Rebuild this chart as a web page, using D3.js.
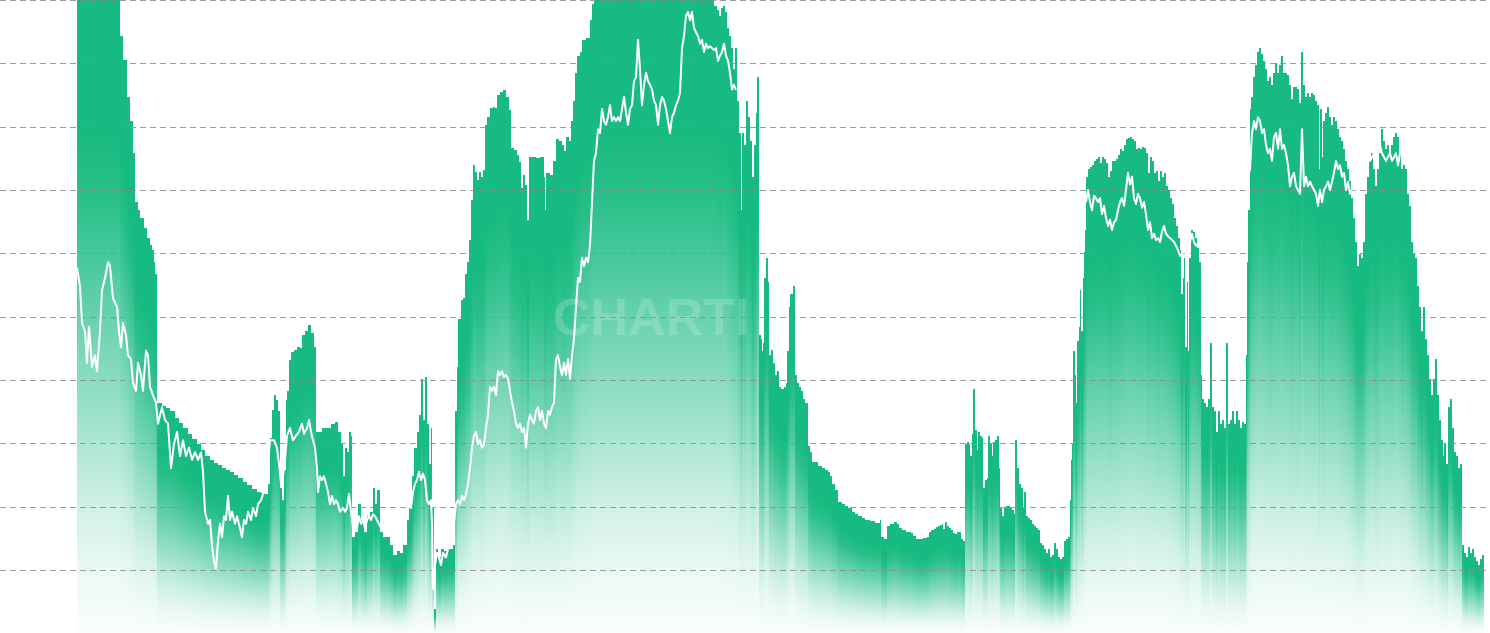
<!DOCTYPE html>
<html><head><meta charset="utf-8">
<script src="https://cdn.jsdelivr.net/npm/d3@7"></script>
<style>html,body{margin:0;padding:0;background:#fff;overflow:hidden}</style>
</head><body>
<svg id="chart" width="1490" height="633"></svg>
<script>
// bar series: [time index, value]
const barSeries = [
[0,100],[43,94.3],[46,90.5],[50,84.7],[53,80.9],[56,75.8],[58,68.1],[61,66.8],[63,65.6],[67,64.0],[70,62.4],[73,61.3],[75,60.5],[77,58.6],[78,56.7],
[80,36.4],[85,35.9],[89,35.6],[93,35.1],[98,34.0],[102,33.2],[106,32.4],[111,31.5],[115,30.7],[120,29.9],[124,28.9],[128,28.0],[133,27.4],[137,26.9],[141,26.6],[145,26.1],[149,25.8],[153,25.5],[157,25.0],[161,24.5],[166,23.9],[170,23.4],[175,22.8],[180,22.3],[184,22.2],[188,22.0],
[191,23.6],[193,30.8],[195,35.3],[197,37.6],[199,36.8],[201,35.1],[203,22.9],[205,21.0],[207,25.8],[209,36.8],[210,38.3],[212,43.2],[214,44.4],[217,44.7],[220,45.2],[223,45.1],[225,47.1],[228,47.7],[231,48.7],[234,47.4],[237,45.2],
[239,31.8],[241,31.8],[245,32.4],[250,32.4],[254,33.1],[258,33.4],[261,31.8],[264,29.9],[266,24.8],[268,29.3],[270,28.6],[272,31.8],[274,31.2],
[275,15.2],[278,16.0],[281,20.4],[284,17.9],[287,16.0],[290,18.5],[293,19.2],[296,22.9],[298,20.4],[300,22.6],[303,16.0],[306,15.2],[310,15.2],[313,13.9],[316,12.4],[320,13.0],[323,12.7],[326,13.9],[330,17.9],[332,19.8],[335,24.8],[337,29.3],[340,31.8],[342,34.5],[344,40.2],[346,33.7],[348,40.5],[350,33.1],[352,26.7],[354,32.4],[355,19.8],[357,3.8],[359,13.3],[361,12.0],[364,13.3],[367,13.0],[370,13.3],[373,13.3],[376,13.9],
[378,35.1],[380,42.1],[381,49.6],[384,52.6],[386,52.9],[388,56.7],[390,58.6],[392,62.1],[394,68.4],[396,73.9],[398,72.8],[400,71.6],[402,72.8],[404,72.1],[406,73.2],[408,80.3],[410,81.5],[413,82.9],[416,83.1],[418,82.9],[420,85.0],[423,85.5],[426,85.8],[429,84.7],[432,82.6],[434,76.6],[437,76.3],[440,75.5],[442,74.4],[444,70.3],[446,72.4],[448,70.8],[450,65.3],[452,75.2],[455,75.2],[459,75.1],[463,75.2],[467,72.1],[468,66.8],[469,72.7],[471,72.7],[473,72.4],[476,74.6],[479,78.1],[482,77.7],[485,77.1],[487,76.2],[489,78.4],[492,77.7],[494,80.9],[496,84.1],[498,88.5],[500,91.2],[503,91.8],[505,93.7],[509,94.0],[513,96.8],[515,99.4],[517,100],
[637,99.1],[640,98.4],[642,97.5],[644,98.7],[646,99.1],[648,98.1],[650,95.6],[652,94.3],[654,92.4],[656,89.1],[658,92.4],[660,84.1],[662,79.0],[664,66.8],[665,79.0],[667,77.1],[669,84.1],[671,81.5],[673,77.7],[675,72.1],[677,77.1],[679,82.2],[680,87.8],
[682,47.1],[684,46.5],[685,44.6],[686,45.8],[687,56.1],[689,59.3],[691,55.5],[692,43.9],[694,44.7],[696,42.7],[698,40.8],[700,41.4],[702,38.9],[704,38.6],[707,38.9],[709,39.5],[710,44.6],[712,51.5],[713,53.6],[716,54.8],[718,40.8],[720,39.5],[722,38.9],[724,38.3],[726,37.0],[728,36.4],
[731,29.6],[733,28.6],[735,27.1],[741,26.4],[745,26.1],[748,25.8],[751,25.5],[753,24.8],[755,23.6],[758,22.6],[761,20.7],[765,20.4],[768,20.1],[771,19.8],[775,19.2],[778,18.8],[781,18.5],[785,18.2],[788,17.9],[793,17.7],[798,17.4],[803,17.9],[804,15.2],[807,14.9],[810,16.9],[813,17.3],[817,17.6],[820,17.3],[822,16.6],[825,16.3],[829,16.0],[834,15.8],[836,15.4],[839,14.9],[846,15.1],[850,15.2],[852,16.0],[854,16.3],[857,16.5],[859,16.8],[861,16.9],[863,17.1],[865,17.3],[866,16.5],[868,17.6],[870,16.9],[872,16.6],[874,16.3],[876,15.8],[878,15.7],[880,16.0],[884,14.9],[886,14.6],
[888,29.9],[890,30.2],[892,29.9],[893,28.0],[895,31.5],[896,38.6],[898,32.1],[900,28.9],[901,31.8],[903,31.2],[905,30.8],[906,22.9],[908,24.2],[910,24.5],[911,31.2],[913,29.9],[915,28.0],[916,30.2],[918,30.5],[920,31.2],[922,26.1],[923,19.8],[925,18.5],[927,19.8],[929,20.1],[933,19.8],[935,19.5],[937,18.8],[938,30.5],[940,26.1],[942,23.6],[944,22.9],[946,19.8],[947,22.3],[949,18.5],[951,18.2],[953,17.9],[955,17.3],[957,16.9],[959,16.6],[961,16.3],[963,14.3],[965,13.9],[967,13.3],[969,12.7],[971,13.3],[973,12.1],[975,12.4],[977,14.3],[979,13.3],[981,12.1],[983,11.7],[985,12.1],[987,14.6],[989,14.9],[991,15.2],
[993,21.0],[994,27.4],[995,29.9],[996,44.6],[998,40.8],[999,36.4],[1000,46.2],[1002,48.4],[1003,54.2],[1004,47.7],[1006,56.1],[1007,60.2],[1008,63.7],[1009,72.1],[1011,73.3],[1013,73.6],[1015,73.9],[1017,74.6],[1019,74.9],[1021,75.2],[1023,74.3],[1025,75.2],[1027,74.9],[1029,74.3],[1031,72.1],[1033,73.0],[1035,74.6],[1039,74.9],[1041,75.5],[1043,76.5],[1045,76.2],[1047,77.1],[1049,78.1],[1051,78.2],[1053,78.4],[1055,78.1],[1057,77.7],[1059,76.5],[1061,76.6],[1063,76.5],[1065,76.8],[1067,76.6],[1069,75.8],[1071,72.7],[1073,75.2],[1075,74.6],[1077,72.7],[1079,73.0],[1081,71.4],[1083,73.0],[1085,72.1],[1087,72.7],[1089,70.6],[1091,70.0],[1093,68.7],[1095,67.8],[1097,65.6],[1099,64.3],[1101,62.4],[1103,60.5],[1104,53.6],[1106,56.1],[1107,59.3],[1108,45.2],[1110,55.5],[1111,44.6],[1112,59.3],[1114,63.7],[1116,63.4],[1118,62.4],[1120,60.8],[1122,58.6],
[1124,40.8],[1125,37.0],[1127,36.4],[1129,35.7],[1131,37.0],[1133,45.8],[1135,35.7],[1137,35.1],[1139,31.8],[1141,35.1],[1143,33.1],[1145,33.7],[1147,32.4],[1149,45.8],[1151,33.1],[1153,33.7],[1155,35.1],[1157,33.1],[1159,35.1],[1161,33.7],[1163,32.4],[1165,33.4],[1167,33.1],
[1169,43.9],[1170,58.6],[1171,66.8],[1173,82.8],[1174,84.7],[1176,87.8],[1178,89.7],[1180,91.8],[1182,92.4],[1184,91.5],[1186,90.4],[1188,89.1],[1190,87.2],[1192,87.8],[1194,86.6],[1196,88.5],[1198,90.1],[1200,88.5],[1202,89.7],[1204,91.2],[1206,88.5],[1210,88.2],[1212,86.6],[1214,84.4],[1216,86.3],[1220,85.9],[1222,83.7],[1224,91.8],[1226,86.6],[1228,84.7],[1230,85.3],[1232,84.7],[1234,85.3],[1236,85.0],[1238,84.1],[1240,83.4],[1242,73.3],[1243,82.8],[1245,75.2],[1246,80.9],[1248,82.2],[1250,83.1],[1252,81.5],[1254,80.3],[1256,81.5],[1258,80.9],[1260,79.6],[1262,78.4],[1264,77.7],[1266,76.5],[1268,74.6],[1270,73.3],[1272,71.4],[1274,68.7],[1276,65.6],[1278,61.8],[1280,58.0],[1282,59.9],[1284,59.3],[1286,61.8],[1288,69.4],[1290,72.1],[1292,74.6],[1294,75.8],[1296,73.3],[1298,70.6],[1300,73.3],[1302,75.8],[1304,79.6],[1306,77.7],[1308,76.5],[1310,77.1],[1312,75.8],[1314,77.1],[1316,78.4],[1318,79.0],[1320,78.4],[1322,75.8],[1324,73.3],[1326,73.9],[1328,73.3],[1330,69.4],[1332,67.5],[1334,61.8],[1336,59.9],[1338,59.3],[1340,54.8],[1342,51.5],[1344,47.7],[1346,51.5],[1348,46.5],[1350,43.9],[1352,40.2],[1354,37.6],[1356,40.2],[1358,43.3],[1360,37.6],[1362,33.7],[1364,30.5],[1366,28.0],[1367,29.9],[1369,26.7],[1371,35.7],[1373,37.0],[1375,32.4],[1377,28.6],[1379,28.0],[1381,26.1],[1383,26.7],[1385,13.9],[1387,12.7],[1389,12.1],[1391,13.6],[1393,12.7],[1395,13.3],[1397,12.1],[1399,11.4],[1401,10.8],[1403,11.7],[1405,12.4]
];
const timeEnd = 1407;

// price line: [time index, value]; null = not drawn
const priceSeries = [
[0,57.7],[3,54.8],[5,49.0],[8,47.7],[10,42.7],[12,48.4],[15,42.1],[18,43.9],[20,41.4],[23,47.7],[25,54.2],[28,56.1],[31,58.6],[33,58.0],[36,52.9],[40,51.5],[42,47.7],[44,45.2],[46,49.0],[49,47.1],[51,43.9],[54,43.3],[56,39.5],[59,38.3],[61,42.7],[64,40.8],[66,38.3],[69,44.6],[71,43.9],[73,38.9],[76,37.6],[79,36.4],[81,33.1],[85,35.7],[88,33.7],[91,33.1],[94,26.1],[97,29.9],[100,31.8],[103,28.0],[106,30.5],[109,28.0],[112,29.3],[115,27.4],[118,28.6],[121,27.4],[124,28.6],[126,25.5],[128,19.2],[131,17.3],[133,17.9],[135,13.9],[137,11.4],[139,10.2],[141,14.6],[143,17.3],[145,15.2],[147,18.5],[149,17.9],[151,21.7],[153,17.9],[155,19.2],[158,17.3],[160,18.5],[163,16.6],[165,15.2],[167,17.9],[169,17.3],[171,19.2],[174,17.9],[176,19.8],[179,18.5],[181,20.4],[184,21.0],[186,22.0],[189,22.9],
[193,30.5],[197,30.5],[200,29.3],[202,26.7],[204,23.6],[206,24.8],[208,27.4],[210,31.2],[213,32.4],[216,30.5],[219,31.2],[222,31.8],[225,33.1],[227,31.5],[230,32.4],[232,33.7],[234,31.8],[236,30.5],[238,29.3],[240,26.1],[241,22.3],[243,24.8],[245,24.2],[247,24.8],[249,23.6],[251,22.3],[253,20.4],[255,21.7],[257,20.4],[259,21.0],[261,20.4],[263,19.2],[266,19.8],[268,19.2],[270,19.8],[272,22.0],[274,19.2],[276,16.6],[278,17.9],[280,16.6],[282,18.5],[284,17.3],[286,17.9],[288,16.6],[290,17.9],[292,18.5],[294,17.9],[296,18.8],[298,18.5],[300,17.9],[303,16.9],[308,17.3],[313,17.6],[319,17.9],[325,18.5],[330,19.2],[332,20.4],[334,19.8],[336,22.3],[338,23.6],[340,24.2],[342,25.5],[344,24.2],[346,25.2],[348,24.2],[350,21.0],[352,20.4],[354,21.0],[355,17.3],[356,7.0],[358,10.8],[360,12.7],[362,12.0],[364,10.8],[366,12.7],[369,12.0],[371,13.3],[375,13.9],[377,17.3],[379,20.4],[381,21.0],[383,20.4],[385,21.7],[387,21.0],[389,22.0],[391,23.6],[393,26.1],[395,29.3],[397,31.2],[399,31.8],[401,29.9],[403,30.5],[405,29.3],[407,29.9],[409,32.4],[411,34.5],[413,38.9],[415,38.3],[417,38.9],[419,37.6],[421,41.4],[423,40.8],[425,41.4],[427,40.5],[429,40.8],[431,40.2],[433,38.3],[435,36.4],[437,35.1],[439,33.1],[441,32.4],[443,33.1],[445,31.8],[447,32.4],[449,29.3],[451,33.1],[453,34.5],[455,33.7],[457,33.1],[459,35.1],[461,35.7],[463,33.7],[465,35.1],[467,33.1],[469,32.4],[471,35.1],[473,34.5],[475,35.7],[477,36.4],[479,43.3],[481,43.9],[483,42.1],[485,40.8],[487,42.7],[489,40.8],[491,43.3],[493,40.2],[495,43.9],[497,46.5],[499,51.5],[501,56.1],[503,55.5],[505,59.3],[507,58.0],[509,59.3],[511,58.6],[513,61.2],[515,68.1],[517,74.6],[519,75.8],[521,79.6],[523,79.0],[525,82.8],[527,80.9],[529,80.3],[531,81.5],[533,83.4],[535,80.9],[537,81.5],[539,80.9],[541,81.5],[543,80.9],[545,82.8],[547,84.7],[549,82.2],[551,80.3],[553,82.8],[555,83.4],[557,87.2],[559,87.8],[561,93.7],[563,89.1],[565,83.4],[567,86.6],[569,88.5],[571,87.2],[573,86.6],[575,85.9],[577,84.1],[579,83.4],[581,80.3],[583,83.4],[585,84.7],[587,84.1],[589,82.8],[591,80.9],[593,79.0],[595,81.5],[597,82.2],[599,83.4],[601,84.1],[603,85.3],[605,92.4],[607,94.3],[609,97.5],[611,98.1],[613,96.8],[615,98.1],[617,95.6],[619,94.9],[621,94.3],[623,93.1],[625,93.7],[627,91.8],[629,93.1],[631,92.4],[633,92.7],[635,92.4],[637,92.1],[639,92.4],[641,90.4],[643,91.2],[645,91.8],[647,93.1],[649,91.2],[651,90.4],[653,88.5],[655,85.9],[657,86.6],[659,85.8],
[700,null],
[1009,68.1],[1011,70.0],[1013,68.1],[1015,66.8],[1017,69.1],[1019,68.7],[1021,68.1],[1023,68.7],[1025,66.2],[1027,67.5],[1029,65.6],[1031,64.3],[1033,65.3],[1035,63.7],[1037,64.9],[1039,65.3],[1041,66.8],[1043,68.1],[1045,68.7],[1047,67.5],[1049,70.0],[1051,72.7],[1053,70.9],[1055,72.1],[1057,68.7],[1059,67.8],[1061,69.4],[1063,68.7],[1065,67.2],[1067,68.1],[1069,66.2],[1071,63.7],[1073,64.9],[1075,62.4],[1077,63.1],[1079,62.1],[1081,62.4],[1083,61.8],[1085,63.4],[1087,64.3],[1089,63.1],[1091,62.7],[1093,62.4],[1095,62.1],[1097,61.8],[1099,61.2],[1101,60.5],[1103,59.6],[1105,59.9],[1107,61.8],[1109,59.9],[1111,60.5],[1113,61.8],[1115,63.1],[1117,61.8],[1119,61.2],
[1169,68.7],[1171,72.1],[1173,73.3],[1175,79.0],[1177,80.9],[1179,79.6],[1181,81.5],[1183,80.9],[1185,79.0],[1187,79.6],[1189,77.1],[1191,75.8],[1193,76.5],[1195,74.6],[1197,78.4],[1199,79.0],[1201,76.5],[1203,79.6],[1205,76.5],[1207,77.1],[1209,75.8],[1211,73.9],[1213,70.6],[1215,72.1],[1217,72.7],[1219,70.6],[1221,70.0],[1223,69.4],[1225,79.6],[1227,70.6],[1229,72.1],[1231,70.6],[1233,71.3],[1235,70.6],[1237,70.0],[1239,69.4],[1241,67.5],[1243,70.0],[1245,68.1],[1247,70.0],[1249,70.6],[1251,71.3],[1253,70.0],[1255,71.3],[1257,72.7],[1259,74.6],[1261,73.3],[1263,73.9],[1265,72.1],[1267,72.7],[1269,70.0],[1271,71.3],[1273,69.4],[1275,70.0],[1281,72.4],[1287,74.7],[1289,76.5],[1293,74.6],[1297,75.8],[1301,76.5],[1303,77.1],[1305,75.8],[1307,75.2],[1309,74.6],[1311,75.2],[1313,75.8],[1315,74.6],[1317,75.2],[1319,75.8],[1321,73.9],[1323,75.8],[1325,76.5],[1327,75.8]
];

const gridValues = [10,20,30,40,50,60,70,80,90,100];
const watermarkText = "CHARTI";

const W = 1490, H = 633.33;
const svg = d3.select("#chart");
const x = d3.scaleLinear().domain([0, timeEnd]).range([77, 1484]);
const y = d3.scaleLinear().domain([0, 100]).range([H, 0]);

const defs = svg.append("defs");
const grad = defs.append("linearGradient").attr("id","barGrad")
  .attr("x1",0).attr("y1",0).attr("x2",0).attr("y2",1);
[[0,1],[0.2,1],[0.3,0.93],[0.4,0.8],[0.5,0.65],[0.6,0.5],[0.7,0.35],[0.8,0.2],[0.9,0.09],[1,0.02]]
  .forEach(([o,a]) => grad.append("stop").attr("offset",o).attr("stop-color","#17BA80").attr("stop-opacity",a));

const bars = barSeries.map((d,i) => ({t:d[0], v:d[1], t1: i < barSeries.length-1 ? barSeries[i+1][0] : timeEnd}));
svg.append("g").selectAll("rect").data(bars).join("rect")
  .attr("x", d => x(d.t))
  .attr("width", d => x(d.t1) - x(d.t))
  .attr("y", d => y(Math.min(d.v,100)))
  .attr("height", d => y(0) - y(Math.min(d.v,100)))
  .attr("fill","url(#barGrad)")
  .attr("shape-rendering","crispEdges");

svg.append("text").text(watermarkText)
  .attr("x", 553).attr("y", 335)
  .attr("font-family","Liberation Sans, Arial, sans-serif")
  .attr("font-weight","bold").attr("font-size",52)
  .attr("fill","#ffffff").attr("fill-opacity",0.18);

svg.append("g").selectAll("line").data(gridValues).join("line")
  .attr("x1",0).attr("x2",W)
  .attr("y1", d => Math.round(y(d)) + 0.5)
  .attr("y2", d => Math.round(y(d)) + 0.5)
  .attr("stroke","#8c8c8c").attr("stroke-opacity",0.85)
  .attr("stroke-width",1).attr("stroke-dasharray","6,4");

const line = d3.line()
  .defined(d => d[1] != null)
  .x(d => x(d[0])).y(d => y(d[1]));
svg.append("path").datum(priceSeries)
  .attr("d", line)
  .attr("fill","none").attr("stroke","#ffffff")
  .attr("stroke-width",2).attr("stroke-linejoin","round");
</script>
</body></html>
